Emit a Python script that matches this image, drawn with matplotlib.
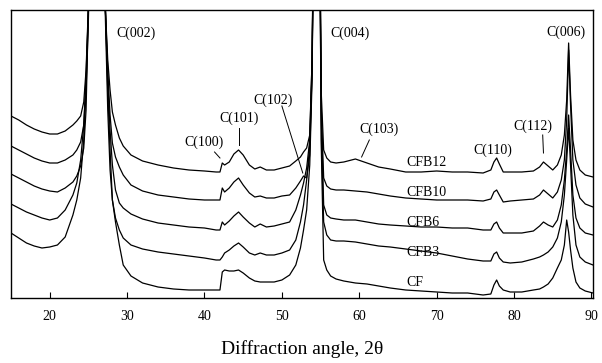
import matplotlib
matplotlib.use("Agg")
import matplotlib.pyplot as plt
import numpy as np

# 2-theta grid (degrees)
two_theta = [15, 16, 17, 18, 19, 20, 21, 22, 23, 23.5,
             24, 24.4, 24.7, 25.0, 25.5, 26.1, 26.7, 27.2, 27.5, 27.8,
             28.1, 28.5, 29.0, 29.5, 30.5, 32, 34, 36, 38, 40,
             41.5, 42.0, 42.3, 42.6, 43.2, 43.8, 44.4, 45.0, 45.8, 46.5,
             47.2, 48, 49, 50, 51, 51.8, 52.4, 52.8, 53.2, 53.6,
             53.9, 54.2, 54.5, 54.8, 55.1, 55.4, 55.8, 56.3, 57, 58,
             59.5, 61, 62.5, 64, 66, 68, 70, 72, 74, 76,
             77.0, 77.4, 77.75, 78.1, 78.6, 79.5, 81, 82.5, 83.3, 83.8,
             84.4, 85.0, 85.6, 86.1, 86.5, 86.8, 87.05, 87.3, 87.6, 88.0,
             88.5, 89.2, 90.2]

# stacked intensities (arbitrary units, offsets included)
cfb12 = [182, 178, 173, 169, 166, 164, 164, 167, 173, 177,
         182, 196, 228, 293, 448, 598, 448, 288, 238, 208,
         186, 173, 160, 152, 143, 137, 133, 130, 128, 127,
         126, 126, 135, 133, 136, 144, 148, 143, 133, 129,
         131, 128, 128, 130, 132, 137, 141, 146, 150, 163,
         238, 448, 598, 448, 203, 148, 140, 136, 135, 136,
         139, 135, 131, 129, 126, 126, 127, 126, 126, 125,
         128, 136, 140, 134, 126, 126, 126, 127, 131, 136,
         132, 128, 133, 143, 163, 198, 255, 203, 158, 138,
         128, 123, 121]
cfb10 = [152, 148, 144, 140, 137, 135, 135, 138, 143, 148,
         156, 173, 213, 288, 448, 598, 448, 288, 228, 183,
         155, 141, 131, 123, 113, 107, 103, 101, 99, 98,
         98, 98, 110, 106, 110, 116, 120, 113, 105, 101,
         102, 100, 100, 102, 103, 110, 117, 122, 120, 143,
         228, 448, 598, 448, 188, 120, 112, 109, 108, 108,
         107, 106, 104, 102, 100, 99, 98, 98, 98, 97,
         99, 106, 108, 103, 96, 97, 98, 99, 103, 108,
         104, 100, 106, 118, 138, 178, 248, 193, 138, 113,
         100, 94, 91]
cfb6 = [124, 120, 116, 112, 109, 107, 106, 110, 116, 122,
        132, 150, 188, 288, 448, 598, 448, 288, 218, 168,
        133, 108, 95, 90, 84, 79, 75, 73, 71, 70,
        68, 68, 76, 73, 77, 82, 86, 81, 75, 71,
        74, 71, 72, 74, 76, 88, 103, 115, 130, 158,
        238, 448, 598, 448, 178, 93, 83, 80, 79, 78,
        78, 76, 74, 73, 72, 71, 71, 70, 70, 68,
        68, 74, 76, 70, 65, 65, 65, 67, 72, 76,
        73, 71, 78, 93, 118, 148, 183, 148, 103, 80,
        70, 65, 63]
cfb3 = [94, 90, 86, 83, 80, 78, 80, 88, 103, 115,
        138, 173, 223, 288, 448, 598, 448, 288, 208, 148,
        98, 80, 68, 60, 53, 49, 46, 44, 42, 40,
        38, 38, 41, 45, 48, 52, 55, 51, 45, 43,
        45, 43, 43, 45, 48, 58, 76, 93, 118, 153,
        228, 448, 598, 448, 158, 76, 63, 58, 57, 57,
        56, 54, 52, 51, 49, 47, 45, 42, 39, 37,
        37, 44, 46, 40, 36, 35, 36, 39, 41, 43,
        46, 51, 60, 76, 103, 138, 170, 133, 83, 53,
        41, 36, 33]
cf = [65, 60, 55, 52, 50, 51, 53, 61, 83, 98,
      120, 158, 208, 278, 448, 598, 448, 278, 188, 128,
      98, 76, 53, 33, 22, 15, 11, 9, 8, 8,
      8, 8, 26, 28, 27, 27, 28, 25, 20, 17,
      16, 16, 16, 18, 23, 33, 50, 68, 88, 133,
      218, 448, 598, 448, 148, 38, 28, 22, 19, 17,
      15, 14, 12, 10, 8, 7, 6, 5, 5, 3,
      4, 13, 18, 12, 8, 6, 6, 8, 9, 11,
      14, 20, 30, 38, 53, 78, 66, 48, 30, 16,
      10, 7, 5]

series = [("CFB12", cfb12), ("CFB10", cfb10), ("CFB6", cfb6), ("CFB3", cfb3), ("CF", cf)]
sample_label_y = [135, 105, 76, 46, 16]

peak_labels = ["C(002)", "C(004)", "C(006)", "C(100)", "C(101)", "C(102)", "C(103)", "C(110)", "C(112)"]
peak_label_pos = [(31.1, 265), (58.8, 265), (86.7, 266), (40.0, 156), (44.5, 180),
                  (48.9, 198), (62.6, 169), (77.2, 148), (82.4, 172)]
peak_leaders = [None, None, None,
                ((41.3, 146), (42.0, 140)),
                ((44.4, 170), (44.4, 153)),
                ((50.0, 192), (52.7, 125)),
                ((61.3, 158), (60.3, 141)),
                None,
                ((83.7, 163), (83.8, 145))]

xticks = [20, 30, 40, 50, 60, 70, 80, 90]

plt.rcParams['font.family'] = ['Liberation Serif', 'DejaVu Serif']

fig = plt.figure(figsize=(6.02, 3.63), dpi=100)
ax = fig.add_axes([11/602, 1 - 298/363, (593 - 11)/602, (298 - 10)/363])

for name, vals in series:
    ax.plot(two_theta, vals, color='black', lw=0.9)

for (name, _), yv in zip(series, sample_label_y):
    ax.text(66.1, yv, name, fontsize=10, ha='left', va='center')

for lab, (px, py), lead in zip(peak_labels, peak_label_pos, peak_leaders):
    ax.text(px, py, lab, fontsize=10, ha='center', va='center')
    if lead is not None:
        (x0, y0), (x1, y1) = lead
        ax.plot([x0, x1], [y0, y1], color='black', lw=0.7)

ax.set_xlim(15, 90.2)
ax.set_ylim(0, 288)
ax.set_xticks(xticks)
ax.set_xticklabels([str(t) for t in xticks])
ax.set_yticks([])
ax.tick_params(axis='x', direction='in', length=4, width=0.8, labelsize=10, pad=9)
for s in ax.spines.values():
    s.set_linewidth(1.0)
ax.set_xlabel("Diffraction angle, 2θ", fontsize=14, labelpad=12)

fig.savefig("out.png", dpi=100)
